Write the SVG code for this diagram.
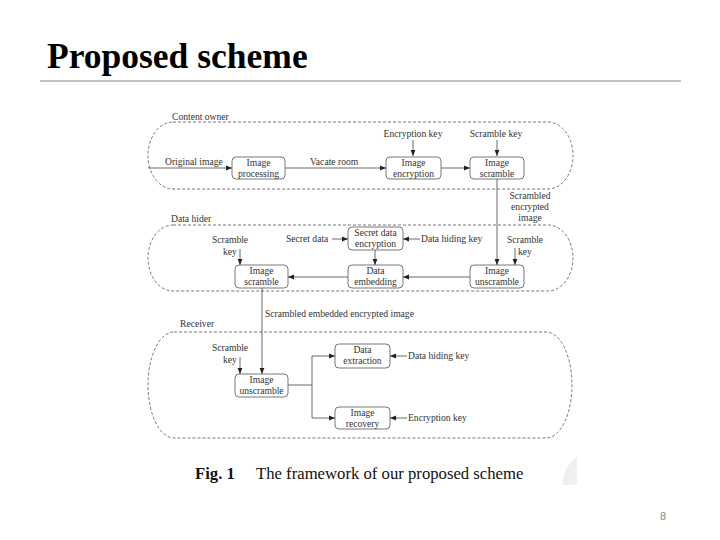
<svg xmlns="http://www.w3.org/2000/svg" width="720" height="540" viewBox="0 0 720 540" font-family="Liberation Serif, Times New Roman, serif">
<defs>
<marker id="ah" viewBox="0 0 10 10" refX="10" refY="5" markerWidth="6" markerHeight="6" markerUnits="userSpaceOnUse" orient="auto">
<path d="M0,1 L10,5 L0,9 Z" fill="#222"/>
</marker>
<style>
.t{font-family:'Liberation Serif',serif;font-size:9.6px;fill:#333}
.c{text-anchor:middle}
.box{fill:#fff;stroke:#555;stroke-width:0.8}
.reg{fill:none;stroke:#555;stroke-width:0.8;stroke-dasharray:3,2}
.ln{fill:none;stroke:#444;stroke-width:0.8}
.ar{fill:none;stroke:#444;stroke-width:0.8;marker-end:url(#ah)}
</style>
</defs>
<rect width="720" height="540" fill="#fff"/>
<text x="47" y="68" font-family="Liberation Serif,serif" font-weight="bold" font-size="35.5" fill="#000">Proposed scheme</text>
<line x1="40" y1="81" x2="681" y2="81" stroke="#888" stroke-width="1"/>

<g id="regions">
<path class="reg" d="M173,122 H548 A25,33.5 0 0 1 548,189 H173 A25,33.5 0 0 1 173,122 Z"/>
<path class="reg" d="M173,225 H548 A25,33 0 0 1 548,291 H173 A25,33 0 0 1 173,225 Z"/>
<path class="reg" d="M174,332 H546 A26,53 0 0 1 546,438 H174 A26,53 0 0 1 174,332 Z"/>
<text class="t" x="172" y="120">Content owner</text>
<text class="t" x="171" y="222">Data hider</text>
<text class="t" x="180" y="327">Receiver</text>
</g>

<g id="connectors">
<line class="ar" x1="148" y1="168" x2="232" y2="168"/>
<line class="ar" x1="285" y1="168" x2="386" y2="168"/>
<line class="ar" x1="441" y1="168" x2="470" y2="168"/>
<line class="ar" x1="413" y1="140" x2="413" y2="156"/>
<line class="ar" x1="497" y1="140" x2="497" y2="156"/>
<line class="ar" x1="497" y1="179" x2="497" y2="265"/>
<line class="ar" x1="240" y1="249" x2="240" y2="265"/>
<line class="ar" x1="332" y1="239" x2="348" y2="239"/>
<line class="ar" x1="375" y1="250" x2="375" y2="265"/>
<line class="ar" x1="420" y1="239" x2="403" y2="239"/>
<line class="ar" x1="515" y1="248" x2="515" y2="265"/>
<line class="ar" x1="470" y1="277" x2="403" y2="277"/>
<line class="ar" x1="348" y1="277" x2="288" y2="277"/>
<line class="ar" x1="262" y1="288" x2="262" y2="374"/>
<line class="ar" x1="240" y1="357" x2="240" y2="374"/>
<polyline class="ln" points="288,385 312,385"/>
<polyline class="ar" points="312,385 312,356 335,356"/>
<polyline class="ar" points="312,385 312,418 335,418"/>
<line class="ar" x1="407" y1="356" x2="390" y2="356"/>
<line class="ar" x1="407" y1="418" x2="390" y2="418"/>
<text class="t" x="165" y="165">Original image</text>
<text class="t" x="310" y="165">Vacate room</text>
<text class="t c" x="413" y="137">Encryption key</text>
<text class="t c" x="496" y="137">Scramble key</text>
<text class="t c" x="530" y="199">Scrambled</text>
<text class="t c" x="530" y="210">encrypted</text>
<text class="t c" x="530" y="221">image</text>
<text class="t c" x="230" y="243">Scramble</text>
<text class="t c" x="230" y="255">key</text>
<text class="t" x="286" y="242">Secret data</text>
<text class="t" x="421" y="242">Data hiding key</text>
<text class="t c" x="525" y="243">Scramble</text>
<text class="t c" x="525" y="255">key</text>
<text class="t" x="265" y="317">Scrambled embedded encrypted image</text>
<text class="t c" x="230" y="351">Scramble</text>
<text class="t c" x="230" y="363">key</text>
<text class="t" x="408" y="359">Data hiding key</text>
<text class="t" x="408" y="421">Encryption key</text>
</g>

<g id="image-processing"><rect class="box" x="232" y="157" width="53" height="22" rx="4"/><text class="t c" x="258.5" y="166">Image</text><text class="t c" x="258.5" y="176.5">processing</text></g>
<g id="image-encryption"><rect class="box" x="386" y="157" width="55" height="22" rx="4"/><text class="t c" x="413.5" y="166">Image</text><text class="t c" x="413.5" y="176.5">encryption</text></g>
<g id="image-scramble-1"><rect class="box" x="470" y="157" width="54" height="22" rx="4"/><text class="t c" x="497" y="166">Image</text><text class="t c" x="497" y="176.5">scramble</text></g>
<g id="secret-data-encryption"><rect class="box" x="348" y="227" width="55" height="23" rx="4"/><text class="t c" x="375.5" y="236">Secret data</text><text class="t c" x="375.5" y="246.5">encryption</text></g>
<g id="data-embedding"><rect class="box" x="348" y="265" width="55" height="23" rx="4"/><text class="t c" x="375.5" y="274">Data</text><text class="t c" x="375.5" y="284.5">embedding</text></g>
<g id="image-unscramble-1"><rect class="box" x="470" y="265" width="54" height="23" rx="4"/><text class="t c" x="497" y="274">Image</text><text class="t c" x="497" y="284.5">unscramble</text></g>
<g id="image-scramble-2"><rect class="box" x="235" y="265" width="53" height="23" rx="4"/><text class="t c" x="261.5" y="274">Image</text><text class="t c" x="261.5" y="284.5">scramble</text></g>
<g id="image-unscramble-2"><rect class="box" x="235" y="374" width="53" height="23" rx="4"/><text class="t c" x="261.5" y="383">Image</text><text class="t c" x="261.5" y="393.5">unscramble</text></g>
<g id="data-extraction"><rect class="box" x="335" y="344" width="55" height="24" rx="4"/><text class="t c" x="362.5" y="353">Data</text><text class="t c" x="362.5" y="364">extraction</text></g>
<g id="image-recovery"><rect class="box" x="335" y="407" width="55" height="22" rx="4"/><text class="t c" x="362.5" y="416">Image</text><text class="t c" x="362.5" y="426.5">recovery</text></g>

<path d="M577,457 Q562,468 563,485 L577,485 Z" fill="#efefef"/>
<text x="195" y="479" font-family="Liberation Serif,serif" font-size="16.7" fill="#111"><tspan font-weight="bold">Fig. 1</tspan><tspan x="256">The framework of our proposed scheme</tspan></text>
<text x="660" y="520" font-family="Liberation Sans,sans-serif" font-size="11" fill="#888">8</text>
</svg>
